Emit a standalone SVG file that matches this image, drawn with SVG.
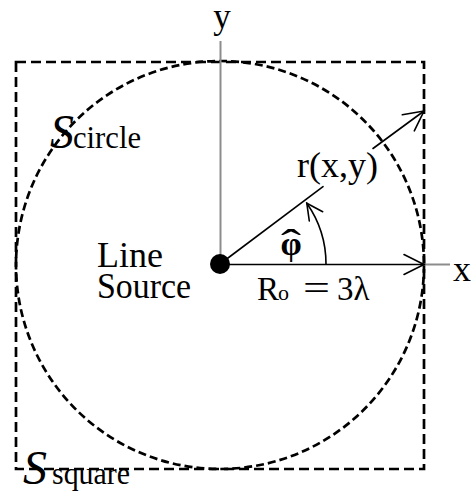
<svg xmlns="http://www.w3.org/2000/svg" width="471" height="498" viewBox="0 0 471 498">
<style>
.t{font-family:"Liberation Serif","Times New Roman",serif;fill:#000}
.axis{stroke:#8c8c8c;stroke-width:2;fill:none}
.arr{stroke:#000;stroke-width:1.6;fill:none;stroke-linecap:round}
.dash{stroke:#000;stroke-width:2.7;fill:none}
</style>
<rect width="471" height="498" fill="#fff"/>
<g id="square">
<rect class="dash" x="16" y="62" width="408" height="407" stroke-dasharray="10 5"/>
</g>
<g id="circle">
<circle class="dash" cx="220" cy="265" r="204" stroke-dasharray="8 4"/>
</g>
<g id="connectors">
<line class="axis" x1="220.5" y1="41" x2="220.5" y2="264"/>
<line class="axis" x1="420" y1="264.5" x2="450" y2="264.5"/>
<line class="arr" x1="220" y1="264.5" x2="424" y2="264.5"/>
<polyline class="arr" points="404,254.5 424,264.5 404,274.5"/>
<line class="arr" x1="220" y1="264" x2="323" y2="186.6"/>
<line class="arr" x1="373" y1="148.5" x2="424" y2="111"/>
<polyline class="arr" points="414.3,130.8 424,111 402.3,114.8"/>
<path class="arr" d="M326 264 A106 106 0 0 0 306.8 203.2"/>
<polyline class="arr" points="322.7,211.7 306.8,203.2 309.3,221"/>
</g>
<g id="source">
<circle cx="220" cy="264" r="10" fill="#000"/>
<text class="t" x="97" y="267" font-size="36">Line</text>
<text class="t" x="97" y="298" font-size="36" textLength="94" lengthAdjust="spacingAndGlyphs">Source</text>
</g>
<g id="labels">
<text class="t" x="222" y="28" font-size="35" text-anchor="middle">y</text>
<text class="t" x="453" y="281" font-size="36">x</text>
<text class="t" x="297" y="177" font-size="36">r(x,y)</text>
<text class="t" x="291" y="255" font-size="34" font-weight="bold" text-anchor="middle">φ</text>
<text class="t" x="281" y="257" font-size="40" textLength="20" lengthAdjust="spacingAndGlyphs">ˆ</text>
<text class="t" y="300"><tspan x="257" font-size="33">R</tspan><tspan x="278" font-size="22">o</tspan><tspan x="303" font-size="36" textLength="27" lengthAdjust="spacingAndGlyphs">=</tspan><tspan x="337" font-size="33">3λ</tspan></text>
</g>
<g id="s-circle">
<text class="t" y="148"><tspan x="50" font-size="48" font-style="italic">S</tspan><tspan x="73" font-size="32" textLength="68" lengthAdjust="spacingAndGlyphs">circle</tspan></text>
</g>
<g id="s-square">
<text class="t" y="484"><tspan x="23" font-size="48" font-style="italic">S</tspan><tspan x="52" font-size="32" textLength="78" lengthAdjust="spacingAndGlyphs">square</tspan></text>
</g>
</svg>
